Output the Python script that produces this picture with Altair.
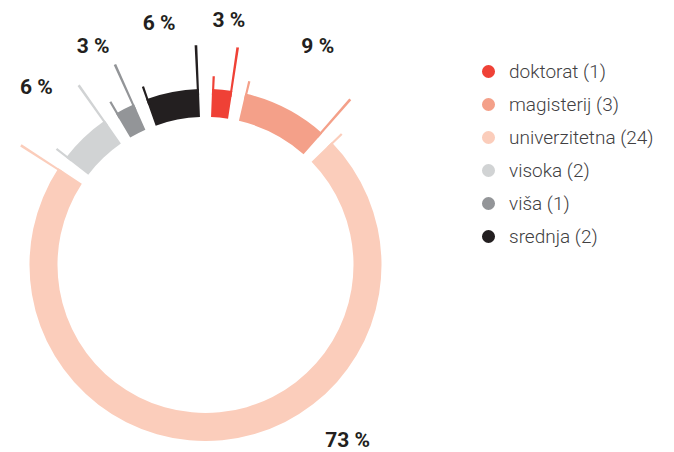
import math
import altair as alt
import pandas as pd

# ---- data ----
categories = ["doktorat", "magisterij", "univerzitetna", "visoka", "viša", "srednja"]
counts = [1, 3, 24, 2, 1, 2]
colors = ["#ef4136", "#f4a089", "#fbcdbb", "#d1d3d4", "#939598", "#231f20"]

# ---- geometry / style constants ----
CX, CY = 197.5, 257.0          # donut centre in plot coordinates
R_IN, R_OUT = 148, 176
R_STUB, R_LONG = 189, 220
PAD = 0.0375                   # half gap between segments (rad)
W = 0.012                      # thickness of the thin radial lines (rad)
LABEL_R = 245

total = sum(counts)
rows = []
cum = 0
for c, n in zip(categories, counts):
    a0 = cum / total * 2 * math.pi
    cum += n
    a1 = cum / total * 2 * math.pi
    pct = n / total
    mid = (a0 + a1) / 2
    lt, lr = mid, LABEL_R
    if pct > 0.5:              # big segment: label sits lower right
        lt, lr = math.radians(141), 226
    rows.append(dict(
        legend=f"{c} ({n})", pct=f"{round(pct * 100)} %",
        t0=a0 + PAD, t1=a1 - PAD, t0w=a0 + PAD + W, t1w=a1 - PAD - W,
        lt=lt, lr=lr))
df = pd.DataFrame(rows)
legend_labels = [f"{c} ({n})" for c, n in zip(categories, counts)]

color = alt.Color(
    "legend:N",
    scale=alt.Scale(domain=legend_labels, range=colors),
    legend=alt.Legend(
        title=None, orient="none", legendX=471, legendY=54,
        symbolType="circle", symbolSize=170, symbolStrokeWidth=0,
        labelFontSize=19, labelFont="Roboto", labelFontWeight=300,
        labelColor="#414042",
        labelOffset=11, rowPadding=13, padding=0,
    ),
)

base = alt.Chart(df).encode(x=alt.value(CX), y=alt.value(CY), color=color)

thick = base.mark_arc(innerRadius=R_IN, outerRadius=R_OUT).encode(
    theta=alt.Theta("t0:Q", scale=None, stack=None), theta2="t1:Q")
stub = base.mark_arc(innerRadius=R_OUT - 6, outerRadius=R_STUB).encode(
    theta=alt.Theta("t0:Q", scale=None, stack=None), theta2="t0w:Q")
long = base.mark_arc(innerRadius=R_OUT - 6, outerRadius=R_LONG).encode(
    theta=alt.Theta("t1w:Q", scale=None, stack=None), theta2="t1:Q")

labels = alt.Chart(df).mark_text(
    font="Roboto", fontWeight="bold", fontSize=21, color="#231f20",
    align="center", baseline="middle",
).encode(
    x=alt.value(CX), y=alt.value(CY),
    theta=alt.Theta("lt:Q", scale=None, stack=None),
    radius=alt.Radius("lr:Q", scale=None),
    text="pct:N",
)

chart = alt.layer(thick, stub, long, labels).properties(
    width=658, height=444, padding=0, autosize="none",
).configure_view(stroke=None)

chart.save("out.html", embed_options={"renderer": "svg", "actions": False})
